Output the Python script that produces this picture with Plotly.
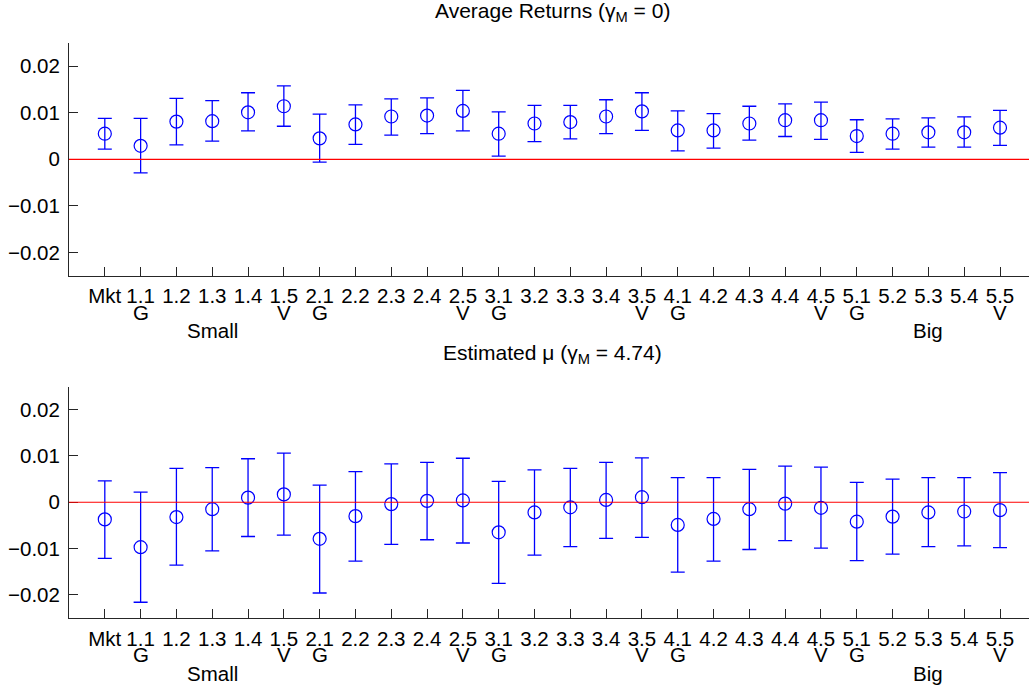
import plotly.graph_objects as go

labels = ["Mkt", "1.1", "1.2", "1.3", "1.4", "1.5", "2.1", "2.2", "2.3", "2.4", "2.5",
          "3.1", "3.2", "3.3", "3.4", "3.5", "4.1", "4.2", "4.3", "4.4", "4.5",
          "5.1", "5.2", "5.3", "5.4", "5.5"]
row2 = ["", "G", "", "", "", "V", "G", "", "", "", "V", "G", "", "", "", "V",
        "G", "", "", "", "V", "G", "", "", "", "V"]
row3 = ["", "", "", "Small", "", "", "", "", "", "", "", "", "", "", "", "",
        "", "", "", "", "", "", "", "Big", "", ""]

# Average returns (gamma_M = 0)
avg_mean = [0.0055, 0.0029, 0.0081, 0.0082, 0.0101, 0.0114, 0.0045, 0.0075, 0.0092, 0.0094, 0.0104,
            0.0055, 0.0077, 0.0080, 0.0092, 0.0103, 0.0062, 0.0062, 0.0077, 0.0084, 0.0084,
            0.0050, 0.0055, 0.0058, 0.0058, 0.0068]
avg_upper = [0.0088, 0.0088, 0.0131, 0.0126, 0.0143, 0.0158, 0.0097, 0.0117, 0.0130, 0.0132, 0.0148,
             0.0102, 0.0116, 0.0116, 0.0128, 0.0143, 0.0104, 0.0098, 0.0114, 0.0119, 0.0123,
             0.0085, 0.0087, 0.0089, 0.0091, 0.0105]
avg_lower = [0.0022, -0.0029, 0.0031, 0.0039, 0.0061, 0.0071, -0.0006, 0.0032, 0.0052, 0.0055, 0.0061,
             0.0007, 0.0038, 0.0044, 0.0055, 0.0062, 0.0018, 0.0024, 0.0041, 0.0049, 0.0043,
             0.0015, 0.0022, 0.0026, 0.0026, 0.0030]

# Estimated mu (gamma_M = 4.74)
mu_mean = [-0.0037, -0.0097, -0.0032, -0.0015, 0.0010, 0.0017, -0.0079, -0.0030, -0.0004, 0.0003, 0.0004,
           -0.0065, -0.0022, -0.0011, 0.0005, 0.0011, -0.0049, -0.0036, -0.0015, -0.0003, -0.0012,
           -0.0042, -0.0031, -0.0022, -0.0020, -0.0017]
mu_upper = [0.0046, 0.0022, 0.0073, 0.0075, 0.0094, 0.0106, 0.0037, 0.0066, 0.0083, 0.0086, 0.0095,
            0.0045, 0.0070, 0.0073, 0.0086, 0.0096, 0.0053, 0.0053, 0.0071, 0.0078, 0.0076,
            0.0043, 0.0050, 0.0053, 0.0053, 0.0064]
mu_lower = [-0.0121, -0.0216, -0.0136, -0.0105, -0.0074, -0.0071, -0.0196, -0.0127, -0.0091, -0.0081, -0.0088,
            -0.0175, -0.0114, -0.0096, -0.0078, -0.0076, -0.0151, -0.0127, -0.0102, -0.0083, -0.0099,
            -0.0126, -0.0112, -0.0096, -0.0094, -0.0098]

ytickvals = [-0.02, -0.01, 0, 0.01, 0.02]
yticktext = ["\u22120.02", "\u22120.01", "0", "0.01", "0.02"]

positions = list(range(1, len(labels) + 1))
FONT = "Liberation Sans, Arial, Helvetica, sans-serif"
FS = 20.5
TFS = 21

fig = go.Figure()

def add_panel(mean, upper, lower, xa, ya):
    fig.add_trace(go.Scatter(
        x=positions, y=mean, mode="markers",
        marker=dict(symbol="circle-open", size=13, color="#0000ff", line=dict(width=1.2, color="#0000ff")),
        error_y=dict(type="data", symmetric=False,
                     array=[u - m for u, m in zip(upper, mean)],
                     arrayminus=[m - l for m, l in zip(mean, lower)],
                     color="#0000ff", thickness=1.3, width=7),
        xaxis=xa, yaxis=ya, showlegend=False, hoverinfo="skip"))

add_panel(avg_mean, avg_upper, avg_lower, "x", "y")
add_panel(mu_mean, mu_upper, mu_lower, "x2", "y2")

axis_common = dict(showgrid=False, zeroline=False, showline=True, linecolor="#262626", linewidth=1,
                   ticks="inside", ticklen=9, tickcolor="#262626", tickwidth=1, automargin=False,
                   tickfont=dict(family=FONT, size=FS, color="#000000"), mirror=False)

fig.update_layout(
    width=1029, height=691,
    margin=dict(l=69, r=0, t=43, b=73, autoexpand=False),
    plot_bgcolor="white", paper_bgcolor="white",
    xaxis=dict(domain=[0, 1], range=[0, 26.81], tickvals=positions, ticktext=labels,
               anchor="y", ticklabelstandoff=2, **axis_common),
    yaxis=dict(domain=[0.5955, 1], range=[-0.025, 0.025], tickvals=ytickvals, ticktext=yticktext,
               anchor="x", ticklabelstandoff=4, **axis_common),
    xaxis2=dict(domain=[0, 1], range=[0, 26.81], tickvals=positions, ticktext=labels,
                anchor="y2", ticklabelstandoff=2, **axis_common),
    yaxis2=dict(domain=[0, 0.4026], range=[-0.025, 0.025], tickvals=ytickvals, ticktext=yticktext,
                anchor="x2", ticklabelstandoff=4, **axis_common),
)

for xr, yr in (("x", "y"), ("x2", "y2")):
    fig.add_shape(type="line", xref=xr + " domain", yref=yr, x0=0, x1=1, y0=0, y1=0,
                  line=dict(color="#ff0000", width=1.2), layer="above")

annotations = []
for xr, yr in (("x", "y"), ("x2", "y2")):
    for p, t in zip(positions, row2):
        if t:
            annotations.append(dict(x=p, y=0, xref=xr, yref=yr + " domain", text=t, showarrow=False,
                                    xanchor="center", yanchor="middle", yshift=-36.5,
                                    font=dict(family=FONT, size=FS, color="#000000")))
    for p, t in zip(positions, row3):
        if t:
            annotations.append(dict(x=p, y=0, xref=xr, yref=yr + " domain", text=t, showarrow=False,
                                    xanchor="center", yanchor="middle", yshift=-55,
                                    font=dict(family=FONT, size=FS, color="#000000")))

titles = [("Average Returns (\u03b3<sub>M</sub> = 0)", "y", 31), ("Estimated \u03bc (\u03b3<sub>M</sub> = 4.74)", "y2", 33)]
for text, yr, ys in titles:
    annotations.append(dict(x=(552 - 69) / 960, y=1, xref="paper", yref=yr + " domain", text=text,
                            showarrow=False, xanchor="center", yanchor="middle", yshift=ys,
                            font=dict(family=FONT, size=TFS, color="#000000")))

fig.update_layout(annotations=annotations)
fig.write_html("out.html", config={"displayModeBar": False},
               post_script="document.body.style.margin='0px';")
